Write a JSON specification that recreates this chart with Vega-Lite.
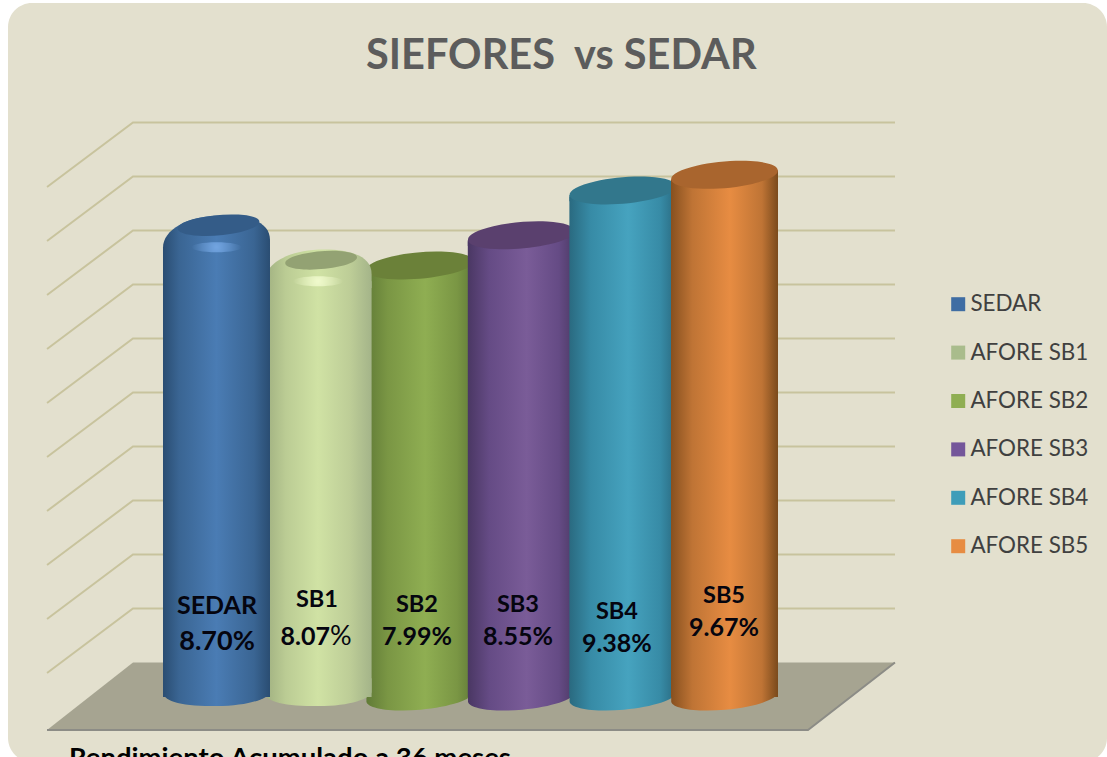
{
"$schema":"https://vega.github.io/schema/vega-lite/v6.json",
"width":1107,"height":757,"padding":0,"autosize":{"type":"fit","contains":"padding"},
"background":"#ffffff","config":{"view":{"stroke":null},"font":"Lato"},
"datasets":{
"bars":[
{"series":"SEDAR","short":"SEDAR","pos":1,"value":8.70,"pct":"8.70%","namePos":1.005,"nameY":1.685,"pctY":1.019},
{"series":"AFORE SB1","short":"SB1","pos":2,"value":8.07,"pct":"8.07","namePos":1.989,"nameY":1.796,"pctY":1.111},
{"series":"AFORE SB2","short":"SB2","pos":3,"value":7.99,"pct":"7.99%","namePos":2.973,"nameY":1.704,"pctY":1.111},
{"series":"AFORE SB3","short":"SB3","pos":4,"value":8.55,"pct":"8.55%","namePos":3.967,"nameY":1.704,"pctY":1.111},
{"series":"AFORE SB4","short":"SB4","pos":5,"value":9.38,"pct":"9.38%","namePos":4.941,"nameY":1.574,"pctY":0.981},
{"series":"AFORE SB5","short":"SB5","pos":6,"value":9.67,"pct":"9.67%","namePos":5.995,"nameY":1.870,"pctY":1.278}
],
"grid":[
{"level":1,"gx":-0.668,"gy":0.444},{"level":1,"gx":0.178,"gy":1.639},{"level":1,"gx":7.678,"gy":1.639},
{"level":2,"gx":-0.668,"gy":1.444},{"level":2,"gx":0.178,"gy":2.639},{"level":2,"gx":7.678,"gy":2.639},
{"level":3,"gx":-0.668,"gy":2.444},{"level":3,"gx":0.178,"gy":3.639},{"level":3,"gx":7.678,"gy":3.639},
{"level":4,"gx":-0.668,"gy":3.444},{"level":4,"gx":0.178,"gy":4.639},{"level":4,"gx":7.678,"gy":4.639},
{"level":5,"gx":-0.668,"gy":4.444},{"level":5,"gx":0.178,"gy":5.639},{"level":5,"gx":7.678,"gy":5.639},
{"level":6,"gx":-0.668,"gy":5.444},{"level":6,"gx":0.178,"gy":6.639},{"level":6,"gx":7.678,"gy":6.639},
{"level":7,"gx":-0.668,"gy":6.444},{"level":7,"gx":0.178,"gy":7.639},{"level":7,"gx":7.678,"gy":7.639},
{"level":8,"gx":-0.668,"gy":7.444},{"level":8,"gx":0.178,"gy":8.639},{"level":8,"gx":7.678,"gy":8.639},
{"level":9,"gx":-0.668,"gy":8.444},{"level":9,"gx":0.178,"gy":9.639},{"level":9,"gx":7.678,"gy":9.639},
{"level":10,"gx":-0.668,"gy":9.444},{"level":10,"gx":0.178,"gy":10.639},{"level":10,"gx":7.678,"gy":10.639}
],
"floor":[{"fx":-0.668,"ftop":-0.611,"fbot":-0.611},{"fx":0.178,"ftop":0.639,"fbot":-0.611},{"fx":6.822,"ftop":0.639,"fbot":-0.611},{"fx":7.678,"ftop":0.639,"fbot":0.639}],
"edge":[{"fx":-0.668,"fy":-0.611},{"fx":6.822,"fy":-0.611},{"fx":7.678,"fy":0.639}],
"panel":[{"x0":-1.052,"x1":9.7648,"y0":12.852,"y1":-1.204}],
"title":[{"text":"SIEFORES\u00a0 vs SEDAR","tx":2.471,"ty":11.85}],
"foot":[{"text":"Rendimiento Acumulado a 36 meses","tx":-0.452,"ty":-1.296}],
"pctsign":[{"text":"%","tx":2.117,"ty":1.111}]
},
"layer":[
{"data":{"name":"panel"},"mark":{"type":"rect","color":"#E3E0CE","cornerRadius":24,"clip":true},
 "encoding":{"x":{"field":"x0","type":"quantitative","axis":null,"scale":{"domain":[-1.1309,9.7648],"nice":false,"zero":false,"padding":0}},"x2":{"field":"x1"},
 "y":{"field":"y0","type":"quantitative","axis":null,"scale":{"domain":[-1.111,12.907],"nice":false,"zero":false}},"y2":{"field":"y1"}}},
{"data":{"name":"floor"},"mark":{"type":"area","color":"#A6A491","opacity":1,"clip":true},
 "encoding":{"x":{"field":"fx","type":"quantitative","axis":null,"scale":{"domain":[-1.1309,9.7648],"nice":false,"zero":false,"padding":0}},
 "y":{"field":"ftop","type":"quantitative","axis":null,"stack":null,"scale":{"domain":[-1.111,12.907],"nice":false,"zero":false}},"y2":{"field":"fbot"}}},
{"data":{"name":"edge"},"mark":{"type":"line","color":"#8C8C86","strokeWidth":2,"clip":true},
 "encoding":{"x":{"field":"fx","type":"quantitative","axis":null,"sort":null,"scale":{"domain":[-1.1309,9.7648],"nice":false,"zero":false,"padding":0}},
 "y":{"field":"fy","type":"quantitative","axis":null,"scale":{"domain":[-1.111,12.907],"nice":false,"zero":false}}}},
{"data":{"name":"grid"},"mark":{"type":"line","color":"#C8C39D","strokeWidth":2,"clip":true},
 "encoding":{"x":{"field":"gx","type":"quantitative","axis":null,"scale":{"domain":[-1.1309,9.7648],"nice":false,"zero":false,"padding":0}},
 "y":{"field":"gy","type":"quantitative","axis":null,"scale":{"domain":[-1.111,12.907],"nice":false,"zero":false}},"detail":{"field":"level"}}},
{"data":{"name":"bars"},"mark":{"type":"point","filled":true,"opacity":0,"size":10},
 "encoding":{"x":{"field":"pos","type":"quantitative","axis":null,"scale":{"domain":[-1.1309,9.7648],"nice":false,"zero":false,"padding":0}},
 "y":{"field":"value","type":"quantitative","axis":null,"scale":{"domain":[-1.111,12.907],"nice":false,"zero":false}},
 "color":{"field":"series","type":"nominal","scale":{"domain":["SEDAR","AFORE SB1","AFORE SB2","AFORE SB3","AFORE SB4","AFORE SB5"],"range":["#3F6DA3","#A9BC8C","#8FAE52","#74569A","#3E9DB9","#E78C42"]},
 "legend":{"title":null,"orient":"none","legendX":947,"legendY":293,"symbolType":"square","symbolSize":196,"symbolOpacity":1,"labelFont":"Lato","labelFontSize":22.4,"labelColor":"#404040","labelOffset":1,"rowPadding":25.4,"padding":0,"labelLimit":200}}}},

{"data":{"name":"bars"},"transform":[{"filter":"datum.series==='AFORE SB2'"}],
 "encoding":{"x":{"field":"pos","type":"quantitative","axis":null,"scale":{"domain":[-1.1309,9.7648],"nice":false,"zero":false,"padding":0}},"y":{"field":"value","type":"quantitative","axis":null,"stack":null,"scale":{"domain":[-1.111,12.907],"nice":false,"zero":false}}},
 "layer":[
 {"mark":{"type":"bar","orient":"vertical","size":107,"yOffset":6,"y2Offset":-14,"fill":{"gradient":"linear","x1":0,"y1":0,"x2":1,"y2":0,"stops":[{"offset":0,"color":"#617B37"},{"offset":0.2,"color":"#7A9644"},{"offset":0.55,"color":"#8FAE52"},{"offset":0.85,"color":"#7A9644"},{"offset":1,"color":"#627C38"}]}}},
 {"mark":{"type":"point","filled":true,"opacity":1,"size":11449,"shape":"M-0.996,-0.35L0.996,-0.35L0.996,-0.087A1,0.243,-5,0,1,-0.996,0.087Z","fill":{"gradient":"linear","x1":0,"y1":0,"x2":1,"y2":0,"stops":[{"offset":0,"color":"#617B37"},{"offset":0.2,"color":"#7A9644"},{"offset":0.55,"color":"#8FAE52"},{"offset":0.85,"color":"#7A9644"},{"offset":1,"color":"#627C38"}]}},
  "encoding":{"y":{"datum":0,"type":"quantitative","axis":null,"scale":{"domain":[-1.111,12.907],"nice":false,"zero":false}}}},
 {"mark":{"type":"point","filled":true,"opacity":1,"size":11449,"shape":"M-1,0.087L1,-0.087L1,0.2L-1,0.2Z","fill":{"gradient":"linear","x1":0,"y1":0,"x2":1,"y2":0,"stops":[{"offset":0,"color":"#617B37"},{"offset":0.2,"color":"#7A9644"},{"offset":0.55,"color":"#8FAE52"},{"offset":0.85,"color":"#7A9644"},{"offset":1,"color":"#627C38"}]}}},
 {"mark":{"type":"point","filled":true,"opacity":1,"size":11449,"shape":"M-0.996,0.087A1,0.243,-5,1,0,0.996,-0.087A1,0.243,-5,1,0,-0.996,0.087Z","fill":"#6B8139"}}
 ]},

{"data":{"name":"bars"},"transform":[{"filter":"datum.series==='AFORE SB1'"}],
 "encoding":{"x":{"field":"pos","type":"quantitative","axis":null,"scale":{"domain":[-1.1309,9.7648],"nice":false,"zero":false,"padding":0}},"y":{"field":"value","type":"quantitative","axis":null,"stack":null,"scale":{"domain":[-1.111,12.907],"nice":false,"zero":false}}},
 "layer":[
 {"mark":{"type":"bar","orient":"vertical","size":107,"yOffset":20,"y2Offset":-14,"fill":{"gradient":"linear","x1":0,"y1":0,"x2":1,"y2":0,"stops":[{"offset":0,"color":"#9FAF80"},{"offset":0.2,"color":"#BBCC94"},{"offset":0.5,"color":"#D0E2A4"},{"offset":0.8,"color":"#BDCD97"},{"offset":1,"color":"#A4B489"}]}}},
 {"mark":{"type":"point","filled":true,"opacity":1,"size":11449,"shape":"M-1,-0.35L1,-0.35L1,-0.1C1,0.02 0.6,0.17 0,0.17C-0.6,0.17 -1,0.1 -1,-0.1Z","fill":{"gradient":"linear","x1":0,"y1":0,"x2":1,"y2":0,"stops":[{"offset":0,"color":"#9FAF80"},{"offset":0.2,"color":"#BBCC94"},{"offset":0.5,"color":"#D0E2A4"},{"offset":0.8,"color":"#BDCD97"},{"offset":1,"color":"#A4B489"}]}},
  "encoding":{"y":{"datum":0,"type":"quantitative","axis":null,"scale":{"domain":[-1.111,12.907],"nice":false,"zero":false}}}},
 {"mark":{"type":"point","filled":true,"opacity":1,"size":11449,"shape":"M-1,0.5L-1,0.38C-1,0.05 -0.55,-0.22 0.1,-0.22C0.6,-0.22 1,-0.1 1,0.24L1,0.5Z","fill":{"gradient":"linear","x1":0,"y1":0,"x2":1,"y2":0,"stops":[{"offset":0,"color":"#9FAF80"},{"offset":0.2,"color":"#BBCC94"},{"offset":0.5,"color":"#D0E2A4"},{"offset":0.8,"color":"#BDCD97"},{"offset":1,"color":"#A4B489"}]}}},
 {"mark":{"type":"point","filled":true,"opacity":1,"size":5184,"xOffset":3,"yOffset":-1,"shape":"M-0.996,0.087A1,0.243,-5,1,0,0.996,-0.087A1,0.243,-5,1,0,-0.996,0.087Z","fill":"#93A273"}},
 {"mark":{"type":"point","filled":true,"opacity":1,"size":2500,"yOffset":20,"shape":"M-1,0A1,0.2,0,1,0,1,0A1,0.2,0,1,0,-1,0Z","fill":{"gradient":"radial","x1":0.5,"y1":0.5,"r1":0,"x2":0.5,"y2":0.5,"r2":0.5,"stops":[{"offset":0,"color":"rgba(240,250,205,1)"},{"offset":1,"color":"rgba(240,250,205,0)"}]}}}
 ]},

{"data":{"name":"bars"},"transform":[{"filter":"datum.series==='SEDAR'"}],
 "encoding":{"x":{"field":"pos","type":"quantitative","axis":null,"scale":{"domain":[-1.1309,9.7648],"nice":false,"zero":false,"padding":0}},"y":{"field":"value","type":"quantitative","axis":null,"stack":null,"scale":{"domain":[-1.111,12.907],"nice":false,"zero":false}}},
 "layer":[
 {"mark":{"type":"bar","orient":"vertical","size":107,"yOffset":20,"y2Offset":-14,"fill":{"gradient":"linear","x1":0,"y1":0,"x2":1,"y2":0,"stops":[{"offset":0,"color":"#2A4D72"},{"offset":0.15,"color":"#3A6593"},{"offset":0.5,"color":"#4A7CB4"},{"offset":0.85,"color":"#3A6593"},{"offset":1,"color":"#2A4D72"}]}}},
 {"mark":{"type":"point","filled":true,"opacity":1,"size":11449,"shape":"M-1,-0.35L1,-0.35L1,-0.1C1,0.02 0.6,0.17 0,0.17C-0.6,0.17 -1,0.1 -1,-0.1Z","fill":{"gradient":"linear","x1":0,"y1":0,"x2":1,"y2":0,"stops":[{"offset":0,"color":"#2A4D72"},{"offset":0.15,"color":"#3A6593"},{"offset":0.5,"color":"#4A7CB4"},{"offset":0.85,"color":"#3A6593"},{"offset":1,"color":"#2A4D72"}]}},
  "encoding":{"y":{"datum":0,"type":"quantitative","axis":null,"scale":{"domain":[-1.111,12.907],"nice":false,"zero":false}}}},
 {"mark":{"type":"point","filled":true,"opacity":1,"size":11449,"shape":"M-1,0.5L-1,0.38C-1,0.05 -0.55,-0.22 0.1,-0.22C0.6,-0.22 1,-0.1 1,0.24L1,0.5Z","fill":{"gradient":"linear","x1":0,"y1":0,"x2":1,"y2":0,"stops":[{"offset":0,"color":"#2A4D72"},{"offset":0.15,"color":"#3A6593"},{"offset":0.5,"color":"#4A7CB4"},{"offset":0.85,"color":"#3A6593"},{"offset":1,"color":"#2A4D72"}]}}},
 {"mark":{"type":"point","filled":true,"opacity":1,"size":6724,"xOffset":2,"yOffset":-2,"shape":"M-0.996,0.087A1,0.243,-5,1,0,0.996,-0.087A1,0.243,-5,1,0,-0.996,0.087Z","fill":"#345C88"}},
 {"mark":{"type":"point","filled":true,"opacity":1,"size":2500,"yOffset":20,"shape":"M-1,0A1,0.2,0,1,0,1,0A1,0.2,0,1,0,-1,0Z","fill":{"gradient":"radial","x1":0.5,"y1":0.5,"r1":0,"x2":0.5,"y2":0.5,"r2":0.5,"stops":[{"offset":0,"color":"rgba(115,165,225,1)"},{"offset":1,"color":"rgba(115,165,225,0)"}]}}}
 ]},

{"data":{"name":"bars"},"transform":[{"filter":"datum.series==='AFORE SB3'"}],
 "encoding":{"x":{"field":"pos","type":"quantitative","axis":null,"scale":{"domain":[-1.1309,9.7648],"nice":false,"zero":false,"padding":0}},"y":{"field":"value","type":"quantitative","axis":null,"stack":null,"scale":{"domain":[-1.111,12.907],"nice":false,"zero":false}}},
 "layer":[
 {"mark":{"type":"bar","orient":"vertical","size":107,"yOffset":6,"y2Offset":-14,"fill":{"gradient":"linear","x1":0,"y1":0,"x2":1,"y2":0,"stops":[{"offset":0,"color":"#4A3763"},{"offset":0.2,"color":"#654B85"},{"offset":0.55,"color":"#7A5C98"},{"offset":0.85,"color":"#654B85"},{"offset":1,"color":"#4D3A66"}]}}},
 {"mark":{"type":"point","filled":true,"opacity":1,"size":11449,"shape":"M-0.996,-0.35L0.996,-0.35L0.996,-0.087A1,0.243,-5,0,1,-0.996,0.087Z","fill":{"gradient":"linear","x1":0,"y1":0,"x2":1,"y2":0,"stops":[{"offset":0,"color":"#4A3763"},{"offset":0.2,"color":"#654B85"},{"offset":0.55,"color":"#7A5C98"},{"offset":0.85,"color":"#654B85"},{"offset":1,"color":"#4D3A66"}]}},
  "encoding":{"y":{"datum":0,"type":"quantitative","axis":null,"scale":{"domain":[-1.111,12.907],"nice":false,"zero":false}}}},
 {"mark":{"type":"point","filled":true,"opacity":1,"size":11449,"shape":"M-1,0.087L1,-0.087L1,0.2L-1,0.2Z","fill":{"gradient":"linear","x1":0,"y1":0,"x2":1,"y2":0,"stops":[{"offset":0,"color":"#4A3763"},{"offset":0.2,"color":"#654B85"},{"offset":0.55,"color":"#7A5C98"},{"offset":0.85,"color":"#654B85"},{"offset":1,"color":"#4D3A66"}]}}},
 {"mark":{"type":"point","filled":true,"opacity":1,"size":11449,"shape":"M-0.996,0.087A1,0.243,-5,1,0,0.996,-0.087A1,0.243,-5,1,0,-0.996,0.087Z","fill":"#5A406E"}}
 ]},

{"data":{"name":"bars"},"transform":[{"filter":"datum.series==='AFORE SB4'"}],
 "encoding":{"x":{"field":"pos","type":"quantitative","axis":null,"scale":{"domain":[-1.1309,9.7648],"nice":false,"zero":false,"padding":0}},"y":{"field":"value","type":"quantitative","axis":null,"stack":null,"scale":{"domain":[-1.111,12.907],"nice":false,"zero":false}}},
 "layer":[
 {"mark":{"type":"bar","orient":"vertical","size":107,"yOffset":6,"y2Offset":-14,"fill":{"gradient":"linear","x1":0,"y1":0,"x2":1,"y2":0,"stops":[{"offset":0,"color":"#2A6A80"},{"offset":0.2,"color":"#378BA6"},{"offset":0.55,"color":"#46A3BF"},{"offset":0.85,"color":"#378BA6"},{"offset":1,"color":"#2A6A80"}]}}},
 {"mark":{"type":"point","filled":true,"opacity":1,"size":11449,"shape":"M-0.996,-0.35L0.996,-0.35L0.996,-0.087A1,0.243,-5,0,1,-0.996,0.087Z","fill":{"gradient":"linear","x1":0,"y1":0,"x2":1,"y2":0,"stops":[{"offset":0,"color":"#2A6A80"},{"offset":0.2,"color":"#378BA6"},{"offset":0.55,"color":"#46A3BF"},{"offset":0.85,"color":"#378BA6"},{"offset":1,"color":"#2A6A80"}]}},
  "encoding":{"y":{"datum":0,"type":"quantitative","axis":null,"scale":{"domain":[-1.111,12.907],"nice":false,"zero":false}}}},
 {"mark":{"type":"point","filled":true,"opacity":1,"size":11449,"shape":"M-1,0.087L1,-0.087L1,0.2L-1,0.2Z","fill":{"gradient":"linear","x1":0,"y1":0,"x2":1,"y2":0,"stops":[{"offset":0,"color":"#2A6A80"},{"offset":0.2,"color":"#378BA6"},{"offset":0.55,"color":"#46A3BF"},{"offset":0.85,"color":"#378BA6"},{"offset":1,"color":"#2A6A80"}]}}},
 {"mark":{"type":"point","filled":true,"opacity":1,"size":11449,"shape":"M-0.996,0.087A1,0.243,-5,1,0,0.996,-0.087A1,0.243,-5,1,0,-0.996,0.087Z","fill":"#32778C"}}
 ]},

{"data":{"name":"bars"},"transform":[{"filter":"datum.series==='AFORE SB5'"}],
 "encoding":{"x":{"field":"pos","type":"quantitative","axis":null,"scale":{"domain":[-1.1309,9.7648],"nice":false,"zero":false,"padding":0}},"y":{"field":"value","type":"quantitative","axis":null,"stack":null,"scale":{"domain":[-1.111,12.907],"nice":false,"zero":false}}},
 "layer":[
 {"mark":{"type":"bar","orient":"vertical","size":107,"yOffset":6,"y2Offset":-14,"fill":{"gradient":"linear","x1":0,"y1":0,"x2":1,"y2":0,"stops":[{"offset":0,"color":"#87501F"},{"offset":0.2,"color":"#BF7435"},{"offset":0.55,"color":"#E78C42"},{"offset":0.85,"color":"#BF7435"},{"offset":1,"color":"#7A4A1C"}]}}},
 {"mark":{"type":"point","filled":true,"opacity":1,"size":11449,"shape":"M-0.996,-0.35L0.996,-0.35L0.996,-0.087A1,0.243,-5,0,1,-0.996,0.087Z","fill":{"gradient":"linear","x1":0,"y1":0,"x2":1,"y2":0,"stops":[{"offset":0,"color":"#87501F"},{"offset":0.2,"color":"#BF7435"},{"offset":0.55,"color":"#E78C42"},{"offset":0.85,"color":"#BF7435"},{"offset":1,"color":"#7A4A1C"}]}},
  "encoding":{"y":{"datum":0,"type":"quantitative","axis":null,"scale":{"domain":[-1.111,12.907],"nice":false,"zero":false}}}},
 {"mark":{"type":"point","filled":true,"opacity":1,"size":11449,"shape":"M-1,0.087L1,-0.087L1,0.2L-1,0.2Z","fill":{"gradient":"linear","x1":0,"y1":0,"x2":1,"y2":0,"stops":[{"offset":0,"color":"#87501F"},{"offset":0.2,"color":"#BF7435"},{"offset":0.55,"color":"#E78C42"},{"offset":0.85,"color":"#BF7435"},{"offset":1,"color":"#7A4A1C"}]}}},
 {"mark":{"type":"point","filled":true,"opacity":1,"size":11449,"shape":"M-0.996,0.087A1,0.243,-5,1,0,0.996,-0.087A1,0.243,-5,1,0,-0.996,0.087Z","fill":"#A9652E"}}
 ]},

{"data":{"name":"bars"},"transform":[{"filter":"datum.short==='SEDAR'"}],"mark":{"type":"text","font":"Lato","fontWeight":"bold","fontSize":25,"color":"#05050F","baseline":"middle"},
 "encoding":{"x":{"field":"namePos","type":"quantitative","axis":null,"scale":{"domain":[-1.1309,9.7648],"nice":false,"zero":false,"padding":0}},"y":{"field":"nameY","type":"quantitative","axis":null,"scale":{"domain":[-1.111,12.907],"nice":false,"zero":false}},"text":{"field":"short"}}},
{"data":{"name":"bars"},"transform":[{"filter":"datum.short!=='SEDAR'"}],"mark":{"type":"text","font":"Lato","fontWeight":"bold","fontSize":23.5,"color":"#05050F","baseline":"middle"},
 "encoding":{"x":{"field":"namePos","type":"quantitative","axis":null,"scale":{"domain":[-1.1309,9.7648],"nice":false,"zero":false,"padding":0}},"y":{"field":"nameY","type":"quantitative","axis":null,"scale":{"domain":[-1.111,12.907],"nice":false,"zero":false}},"text":{"field":"short"}}},
{"data":{"name":"bars"},"transform":[{"filter":"datum.short==='SEDAR'"}],"mark":{"type":"text","font":"Lato","fontWeight":"bold","fontSize":27,"color":"#05050F","baseline":"middle"},
 "encoding":{"x":{"field":"namePos","type":"quantitative","axis":null,"scale":{"domain":[-1.1309,9.7648],"nice":false,"zero":false,"padding":0}},"y":{"field":"pctY","type":"quantitative","axis":null,"scale":{"domain":[-1.111,12.907],"nice":false,"zero":false}},"text":{"field":"pct"}}},
{"data":{"name":"bars"},"transform":[{"filter":"datum.short!=='SEDAR' && datum.short!=='SB1'"}],"mark":{"type":"text","font":"Lato","fontWeight":"bold","fontSize":25,"color":"#05050F","baseline":"middle"},
 "encoding":{"x":{"field":"namePos","type":"quantitative","axis":null,"scale":{"domain":[-1.1309,9.7648],"nice":false,"zero":false,"padding":0}},"y":{"field":"pctY","type":"quantitative","axis":null,"scale":{"domain":[-1.111,12.907],"nice":false,"zero":false}},"text":{"field":"pct"}}},
{"data":{"name":"bars"},"transform":[{"filter":"datum.short==='SB1'"}],"mark":{"type":"text","font":"Lato","fontWeight":"bold","fontSize":25,"color":"#05050F","baseline":"middle","align":"right","dx":13},
 "encoding":{"x":{"field":"namePos","type":"quantitative","axis":null,"scale":{"domain":[-1.1309,9.7648],"nice":false,"zero":false,"padding":0}},"y":{"field":"pctY","type":"quantitative","axis":null,"scale":{"domain":[-1.111,12.907],"nice":false,"zero":false}},"text":{"field":"pct"}}},
{"data":{"name":"pctsign"},"mark":{"type":"text","font":"Lato","fontSize":27,"color":"#05050F","baseline":"middle","align":"left"},
 "encoding":{"x":{"field":"tx","type":"quantitative","axis":null,"scale":{"domain":[-1.1309,9.7648],"nice":false,"zero":false,"padding":0}},"y":{"field":"ty","type":"quantitative","axis":null,"scale":{"domain":[-1.111,12.907],"nice":false,"zero":false}},"text":{"field":"text"}}},
{"data":{"name":"title"},"mark":{"type":"text","font":"Lato","fontWeight":"bold","fontSize":41.5,"color":"#5C5C5C","baseline":"middle","align":"left"},
 "encoding":{"x":{"field":"tx","type":"quantitative","axis":null,"scale":{"domain":[-1.1309,9.7648],"nice":false,"zero":false,"padding":0}},"y":{"field":"ty","type":"quantitative","axis":null,"scale":{"domain":[-1.111,12.907],"nice":false,"zero":false}},"text":{"field":"text"}}},
{"data":{"name":"foot"},"mark":{"type":"text","font":"Lato","fontWeight":"bold","fontSize":27.5,"color":"#000000","baseline":"alphabetic","align":"left","clip":true},
 "encoding":{"x":{"field":"tx","type":"quantitative","axis":null,"scale":{"domain":[-1.1309,9.7648],"nice":false,"zero":false,"padding":0}},"y":{"field":"ty","type":"quantitative","axis":null,"scale":{"domain":[-1.111,12.907],"nice":false,"zero":false}},"text":{"field":"text"}}}
]
}
